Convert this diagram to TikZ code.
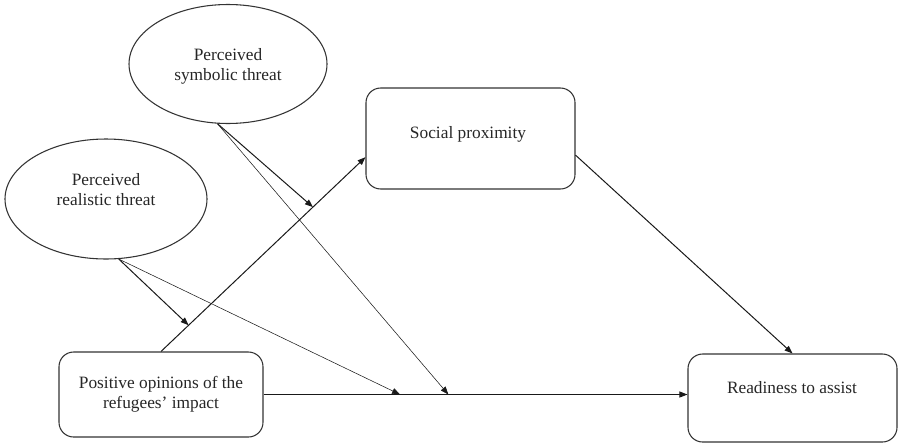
\documentclass[tikz,border=0pt]{standalone}
\usepackage{fontspec}
\setmainfont{Liberation Serif}
\usetikzlibrary{shapes.geometric,arrows.meta,calc}
\begin{document}
\begin{tikzpicture}[x=0.75pt,y=-0.75pt,
  box/.style={draw=black!80, line width=0.8pt, rounded corners=11pt, inner sep=0pt},
  oval/.style={ellipse, draw=black!80, line width=0.8pt, inner sep=0pt},
  lbl/.style={text=black!85, font=\fontsize{13}{15}\selectfont, align=center, inner sep=0pt},
  arr/.style={-{Triangle[length=6pt,width=4.5pt]}, line width=0.75pt, draw=black!90},
  thinarr/.style={-{Triangle[length=6pt,width=4.5pt]}, line width=0.4pt, draw=black!90}]
\useasboundingbox (0,0) rectangle (898,443);
% shapes
\node[oval, minimum width=148.5pt, minimum height=89.25pt] (sym) at (228,64) {};
\node[lbl] (symT) at (228,66) {Perceived\\symbolic threat};
\node[oval, minimum width=151.5pt, minimum height=90pt] (real) at (106,199) {};
\node[lbl] (realT) at (106,190) {Perceived\\realistic threat};
\node[box, minimum width=156.75pt, minimum height=75.75pt] (soc) at (470.5,138.5) {};
\node[lbl] (socT) at (468,134) {Social proximity};
\node[box, minimum width=153pt, minimum height=63.75pt] (pos) at (161,394.5) {};
\node[lbl] (posT) at (161,394.5) {Positive opinions of the\\refugees’ impact};
\node[box, minimum width=156.75pt, minimum height=66pt] (ready) at (792.5,398) {};
\node[lbl] (readyT) at (792,388) {Readiness to assist};
% connectors
\coordinate (socin) at ($(soc.south west)!0.317!(soc.north west)$);
\coordinate (socout) at ($(soc.south east)!0.337!(soc.north east)$);
\draw[arr] (pos.north) -- coordinate[pos=0.135] (m1) coordinate[pos=0.743] (m2) (socin);
\draw[arr] (socout) -- (ready.north);
\draw[arr] (pos.east) -- coordinate[pos=0.322] (h1) coordinate[pos=0.436] (h2) (pos.east -| ready.west);
\draw[arr] (real.-78) -- (m1);
\draw[thinarr] (real.-78) -- (h1);
\draw[arr] (sym.-100) -- (m2);
\draw[thinarr] (sym.-100) -- (h2);
\end{tikzpicture}
\end{document}
